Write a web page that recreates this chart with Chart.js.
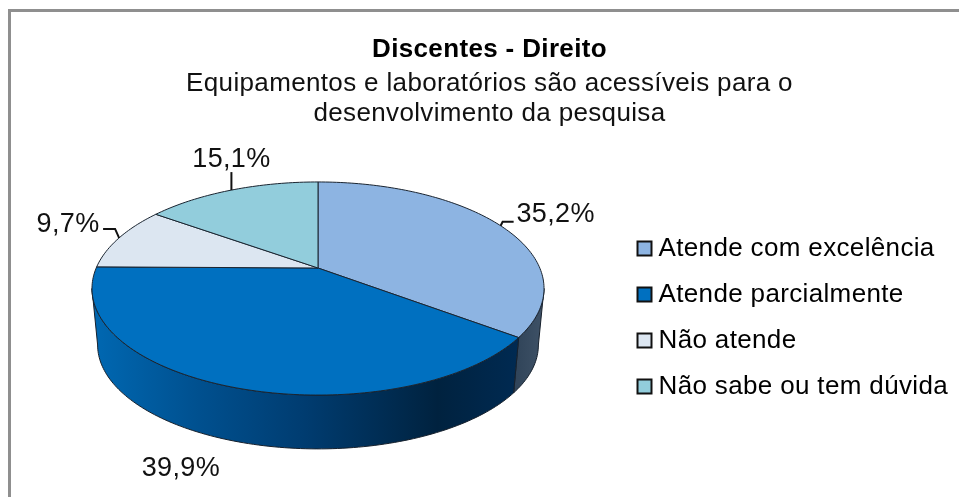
<!DOCTYPE html>
<html lang="pt">
<head>
<meta charset="utf-8">
<title>Discentes - Direito</title>
<script src="https://cdn.jsdelivr.net/npm/chart.js@4"></script>
<style>
html,body{margin:0;padding:0;background:#fff;width:959px;height:497px;overflow:hidden}
#frame{position:absolute;left:8px;top:9px;right:0;bottom:0;border-top:3px solid #8f8f8f;border-left:3px solid #8f8f8f}
#wrap{position:absolute;left:0;top:0;width:959px;height:497px}
</style>
</head>
<body>
<div id="frame"></div>
<div id="wrap"><canvas id="c" width="959" height="497"></canvas></div>
<script>
const titleText = 'Discentes - Direito';
const subtitleLines = ['Equipamentos e laboratórios são acessíveis para o', 'desenvolvimento da pesquisa'];
const categories = ['Atende com excelência', 'Atende parcialmente', 'Não atende', 'Não sabe ou tem dúvida'];
const values = [35.2, 39.9, 9.7, 15.1];
const valueLabels = ['35,2%', '39,9%', '9,7%', '15,1%'];
const sliceColors = ['#8DB4E2', '#0070C0', '#DCE6F1', '#92CDDC'];

// Perspective of the tilted disc, relative to the library's outer radius
const view = {
  centre: [318, 268], radius: 221.8, squash: 0.4626, tilt: 0.1925,
  depth: 57, lowerScale: 0.975
};
const fontFamily = '"Liberation Sans", Arial, sans-serif';
const tracking = '0.35px';

function project(el, angle, lower) {
  const u = Math.cos(angle), v = Math.sin(angle);
  const d = 1 - view.tilt * v, s = lower ? view.lowerScale : 1;
  return [el.x + s * el.outerRadius * u / d,
          el.y + s * el.outerRadius * view.squash * v / d + (lower ? view.depth : 0)];
}
function anglesOf(start, end) {
  const n = Math.max(2, Math.ceil((end - start) / 0.02)), out = [];
  for (let i = 0; i <= n; i++) out.push(start + (end - start) * i / n);
  return out;
}
// Slices stay library arc elements; only their path is projected.
Chart.ArcElement.prototype.draw = function (ctx) {
  const o = this.options;
  ctx.save();
  ctx.beginPath();
  ctx.moveTo(this.x, this.y);
  anglesOf(this.startAngle, this.endAngle).forEach(a => { const p = project(this, a); ctx.lineTo(p[0], p[1]); });
  ctx.closePath();
  ctx.fillStyle = o.backgroundColor;
  ctx.fill();
  ctx.lineWidth = o.borderWidth;
  ctx.strokeStyle = o.borderColor;
  ctx.lineJoin = 'round';
  ctx.stroke();
  ctx.restore();
};

const wallStops = [
  [[0, '#2F4358'], [1, '#3F5267']],
  [[0, '#0068B2'], [0.25, '#00508F'], [0.5, '#003C70'], [0.81, '#00223F'], [1, '#002A52']],
  [[0, '#8d949b'], [1, '#8d949b']],
  [[0, '#5f8590'], [1, '#5f8590']]
];
const wallPlugin = {
  id: 'wall',
  beforeUpdate(chart) { chart.ctx.letterSpacing = tracking; },
  beforeDraw(chart) { chart.ctx.letterSpacing = tracking; },
  afterLayout(chart) {
    const [cx, cy] = view.centre, h = 40;
    Object.assign(chart.chartArea, { left: cx - h, right: cx + h, top: cy - h, bottom: cy + h, width: 2 * h, height: 2 * h });
    const lg = chart.legend, w = lg.width;
    lg.left = 623.5; lg.right = lg.left + w;
    lg.top = 126; lg.bottom = 509;
  },
  beforeDatasetsDraw(chart) {
    const ctx = chart.ctx;
    const arcs = chart.getDatasetMeta(0).data;
    // the rim's left and right silhouette points
    const edge = Math.asin(view.tilt);
    ctx.save();
    arcs.forEach((el, i) => {
      const s = Math.max(el.startAngle, edge), e = Math.min(el.endAngle, Math.PI - edge);
      if (e <= s) return;
      const top = anglesOf(s, e).map(a => project(el, a));
      const low = anglesOf(s, e).map(a => project(el, a, true));
      const xs = top.concat(low).map(p => p[0]);
      const g = ctx.createLinearGradient(Math.min(...xs), 0, Math.max(...xs), 0);
      wallStops[i].forEach(st => g.addColorStop(st[0], st[1]));
      ctx.beginPath();
      top.forEach((p, k) => k ? ctx.lineTo(p[0], p[1]) : ctx.moveTo(p[0], p[1]));
      low.slice().reverse().forEach(p => ctx.lineTo(p[0], p[1]));
      ctx.closePath();
      ctx.fillStyle = g;
      ctx.fill();
      ctx.lineWidth = 1;
      ctx.strokeStyle = '#16202c';
      ctx.stroke();
    });
    ctx.restore();
  }
};

// Offsets of each label from its slice's projected mid-rim point
const labelStyle = {
  offsets: [[55, -11], [-50, 82], [-51, -13], [0, -31]],
  leaders: [[[0, 0], [2, -4], [13, -4]], null, [[0, 0], [-4, -9], [-16, -9]], [[0, 0], [0, -18]]]
};
const labelPlugin = {
  id: 'sliceLabels',
  afterDatasetsDraw(chart) {
    const ctx = chart.ctx;
    ctx.save();
    ctx.font = '27px ' + fontFamily;
    ctx.textAlign = 'center';
    ctx.textBaseline = 'middle';
    ctx.fillStyle = '#111';
    ctx.strokeStyle = '#111';
    ctx.lineWidth = 2;
    chart.getDatasetMeta(0).data.forEach((el, i) => {
      const mid = project(el, (el.startAngle + el.endAngle) / 2);
      const lead = labelStyle.leaders[i];
      if (lead) {
        ctx.beginPath();
        lead.forEach((d, k) => k ? ctx.lineTo(mid[0] + d[0], mid[1] + d[1]) : ctx.moveTo(mid[0] + d[0], mid[1] + d[1]));
        ctx.stroke();
      }
      ctx.fillText(valueLabels[i], mid[0] + labelStyle.offsets[i][0], mid[1] + labelStyle.offsets[i][1]);
    });
    ctx.restore();
  }
};

new Chart(document.getElementById('c'), {
  type: 'pie',
  data: {
    labels: categories,
    datasets: [{
      data: values,
      backgroundColor: sliceColors,
      borderColor: '#1a2430',
      borderWidth: 1,
      radius: view.radius,
      clip: false
    }]
  },
  plugins: [wallPlugin, labelPlugin],
  options: {
    responsive: false,
    animation: false,
    events: [],
    layout: { padding: { left: 20, top: 35 } },
    plugins: {
      tooltip: { enabled: false },
      title: {
        display: true, text: titleText, color: '#000',
        font: { family: fontFamily, size: 26, weight: 'bold', lineHeight: 1.154 },
        padding: { top: 0, bottom: 4 }
      },
      subtitle: {
        display: true, text: subtitleLines, color: '#111',
        font: { family: fontFamily, size: 26, weight: 'normal', lineHeight: 1.154 },
        padding: { top: 0, bottom: 0 }
      },
      legend: {
        position: 'right',
        labels: {
          color: '#111',
          font: { family: fontFamily, size: 26 },
          usePointStyle: true, pointStyle: 'rect',
          boxWidth: 2, boxHeight: 14, padding: 20,
          generateLabels(chart) {
            return categories.map((t, i) => ({
              text: t, fillStyle: sliceColors[i], strokeStyle: '#111', lineWidth: 2,
              pointStyle: 'rect', hidden: false, index: i
            }));
          }
        }
      }
    }
  }
});
</script>
</body>
</html>
